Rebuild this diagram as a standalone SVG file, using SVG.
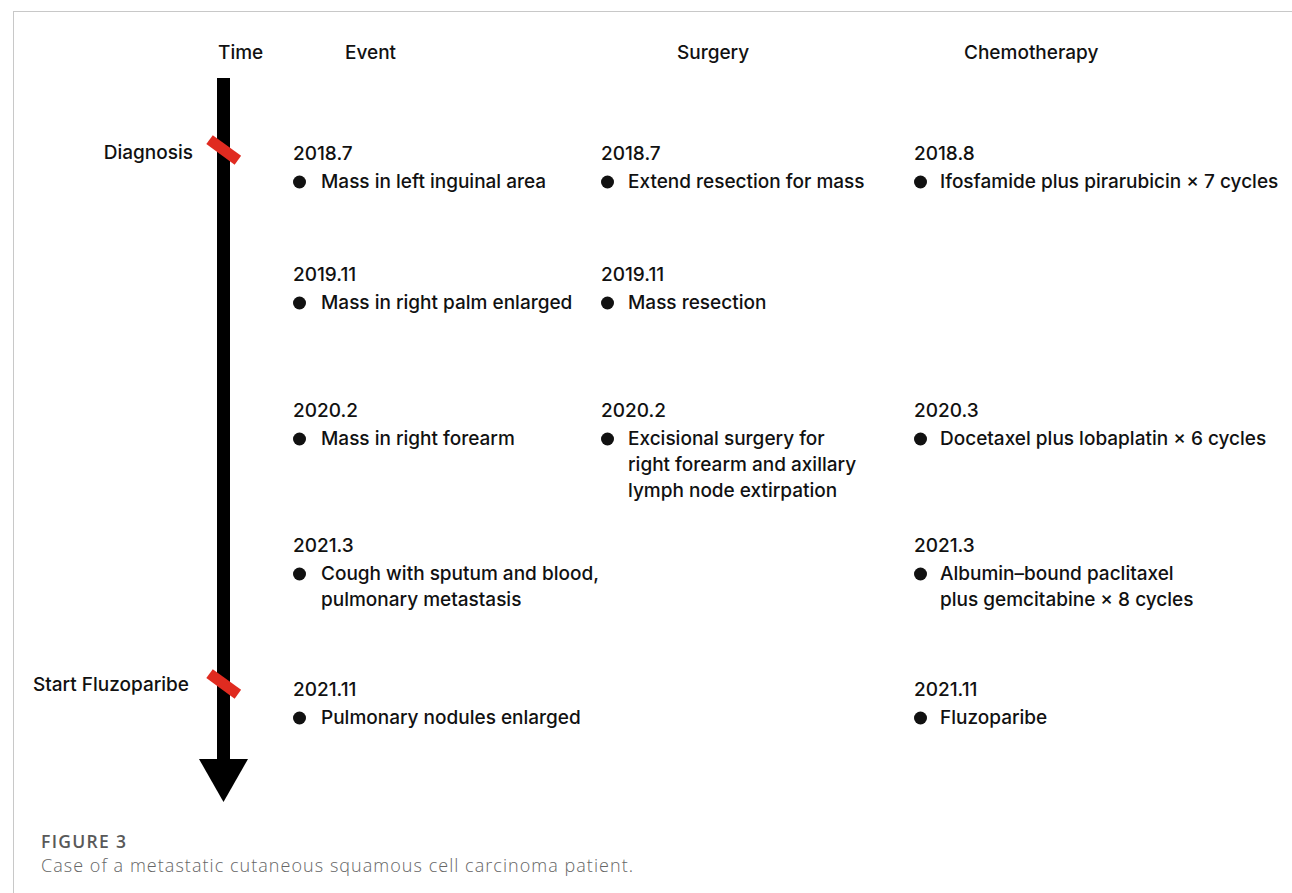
<svg xmlns="http://www.w3.org/2000/svg" width="1292" height="893" viewBox="0 0 1292 893">
<style>
text{font-family:Inter,"Liberation Sans",Arial,sans-serif;fill:#111;font-weight:500;}
.h{font-size:19px;}
.t{font-size:19px;}
.cap1{font-family:"Open Sans","Liberation Sans",sans-serif;font-size:17.5px;font-weight:600;fill:#595959;}
.cap2{font-family:"Open Sans","Liberation Sans",sans-serif;font-size:18px;font-weight:300;fill:#666;}
.dot{fill:#111;}
.mark{fill:#e02b20;}
</style>
<rect x="13.5" y="11.5" width="1300" height="900" fill="#fff" stroke="#c8c8c8" stroke-width="1"/>
<g id="connectors">
<rect x="217" y="78" width="13" height="684" fill="#000"/>
<polygon points="199,759 248,759 223.5,802" fill="#000"/>
</g>
<g id="markers">
<rect class="mark" x="206" y="144" width="35" height="11" transform="rotate(36 223 150)"/>
<rect class="mark" x="206" y="678" width="35" height="11" transform="rotate(36 223 684)"/>
</g>
<g id="headers">
<text class="h" x="218" y="59">Time</text>
<text class="h" x="345" y="59">Event</text>
<text class="h" x="677" y="59">Surgery</text>
<text class="h" x="964" y="59">Chemotherapy</text>
</g>
<g id="labels">
<text class="t" x="193" y="159" text-anchor="end">Diagnosis</text>
<text class="t" x="189" y="691" text-anchor="end">Start Fluzoparibe</text>
</g>
<g id="event-2018-7">
<text class="t" x="293" y="160">2018.7</text>
<circle class="dot" cx="299.5" cy="182" r="6.5"/>
<text class="t" x="321" y="188">Mass in left inguinal area</text>
</g>
<g id="surgery-2018-7">
<text class="t" x="601" y="160">2018.7</text>
<circle class="dot" cx="607.5" cy="182" r="6.5"/>
<text class="t" x="628" y="188">Extend resection for mass</text>
</g>
<g id="chemo-2018-8">
<text class="t" x="914" y="160">2018.8</text>
<circle class="dot" cx="920.5" cy="182" r="6.5"/>
<text class="t" x="940" y="188">Ifosfamide plus pirarubicin × 7 cycles</text>
</g>
<g id="event-2019-11">
<text class="t" x="293" y="281">2019.11</text>
<circle class="dot" cx="299.5" cy="303" r="6.5"/>
<text class="t" x="321" y="309">Mass in right palm enlarged</text>
</g>
<g id="surgery-2019-11">
<text class="t" x="601" y="281">2019.11</text>
<circle class="dot" cx="607.5" cy="303" r="6.5"/>
<text class="t" x="628" y="309">Mass resection</text>
</g>
<g id="event-2020-2">
<text class="t" x="293" y="417">2020.2</text>
<circle class="dot" cx="299.5" cy="439" r="6.5"/>
<text class="t" x="321" y="445">Mass in right forearm</text>
</g>
<g id="surgery-2020-2">
<text class="t" x="601" y="417">2020.2</text>
<circle class="dot" cx="607.5" cy="439" r="6.5"/>
<text class="t" x="628" y="445">Excisional surgery for</text>
<text class="t" x="628" y="471">right forearm and axillary</text>
<text class="t" x="628" y="497">lymph node extirpation</text>
</g>
<g id="chemo-2020-3">
<text class="t" x="914" y="417">2020.3</text>
<circle class="dot" cx="920.5" cy="439" r="6.5"/>
<text class="t" x="940" y="445">Docetaxel plus lobaplatin × 6 cycles</text>
</g>
<g id="event-2021-3">
<text class="t" x="293" y="552">2021.3</text>
<circle class="dot" cx="299.5" cy="574" r="6.5"/>
<text class="t" x="321" y="580">Cough with sputum and blood,</text>
<text class="t" x="321" y="606">pulmonary metastasis</text>
</g>
<g id="chemo-2021-3">
<text class="t" x="914" y="552">2021.3</text>
<circle class="dot" cx="920.5" cy="574" r="6.5"/>
<text class="t" x="940" y="580">Albumin–bound paclitaxel</text>
<text class="t" x="940" y="606">plus gemcitabine × 8 cycles</text>
</g>
<g id="event-2021-11">
<text class="t" x="293" y="696">2021.11</text>
<circle class="dot" cx="299.5" cy="718" r="6.5"/>
<text class="t" x="321" y="724">Pulmonary nodules enlarged</text>
</g>
<g id="chemo-2021-11">
<text class="t" x="914" y="696">2021.11</text>
<circle class="dot" cx="920.5" cy="718" r="6.5"/>
<text class="t" x="940" y="724">Fluzoparibe</text>
</g>
<g id="caption">
<text class="cap1" x="41" y="848" textLength="85" lengthAdjust="spacing">FIGURE 3</text>
<text class="cap2" x="41" y="872" textLength="592" lengthAdjust="spacing">Case of a metastatic cutaneous squamous cell carcinoma patient.</text>
</g>
</svg>
